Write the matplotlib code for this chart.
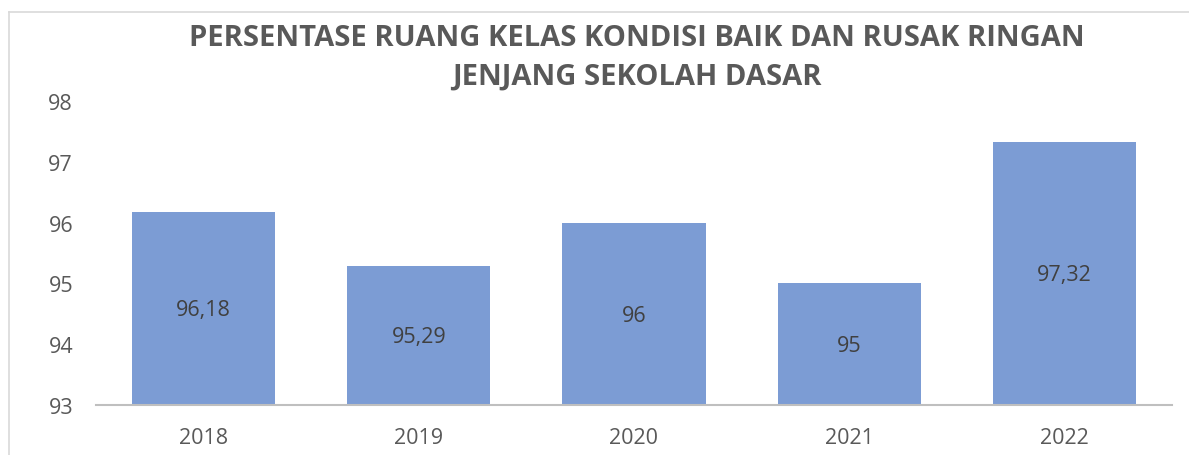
import matplotlib.pyplot as plt
from matplotlib.lines import Line2D

tahun = ["2018", "2019", "2020", "2021", "2022"]
persen = [96.18, 95.29, 96.00, 95.00, 97.32]
label_persen = ["96,18", "95,29", "96", "95", "97,32"]
y_ticks = [93, 94, 95, 96, 97, 98]

BATANG = "#7C9CD4"
TEKS = "#595959"
TEKS_GELAP = "#404040"
GARIS = "#BFBFBF"

plt.rcParams["font.family"] = ["Open Sans", "DejaVu Sans"]

W, H = 1189, 456
fig = plt.figure(figsize=(W / 100, H / 100), dpi=100)
ax = fig.add_axes([96 / W, 1 - 406 / H, (1172 - 96) / W, (406 - 102) / H])

x = list(range(len(tahun)))
ax.bar(x, [v - 93 for v in persen], bottom=93, width=0.665, color=BATANG)
for xi, v, lab in zip(x, persen, label_persen):
    ax.text(xi, (93 + v) / 2 - 0.02, lab, ha="center", va="center", fontsize=15.5, color=TEKS_GELAP)

ax.set_xlim(-0.5, len(tahun) - 0.5)
ax.set_ylim(93, 98)
ax.set_yticks(y_ticks)
ax.set_xticks(x)
ax.set_xticklabels(tahun)
ax.tick_params(axis="both", length=0, labelsize=15.5, colors=TEKS)
ax.tick_params(axis="y", pad=16.5)
ax.tick_params(axis="x", pad=16)
for s in ["top", "right", "left"]:
    ax.spines[s].set_visible(False)
ax.spines["bottom"].set_color(GARIS)
ax.spines["bottom"].set_linewidth(1.5)

fig.text(637 / W, 1 - 39 / H, "PERSENTASE RUANG KELAS KONDISI BAIK DAN RUSAK RINGAN",
         ha="center", va="center", fontsize=21, fontweight="bold", color=TEKS)
fig.text(637 / W, 1 - 77 / H, "JENJANG SEKOLAH DASAR",
         ha="center", va="center", fontsize=21, fontweight="bold", color=TEKS)

# bingkai tipis di kiri dan atas
fig.add_artist(Line2D([8.5 / W, 8.5 / W], [0, 1 - 12.5 / H], color="#D9D9D9", lw=1.2))
fig.add_artist(Line2D([8.5 / W, 1], [1 - 12.5 / H, 1 - 12.5 / H], color="#D9D9D9", lw=1.2))

fig.savefig("out.png", dpi=100, facecolor="white")
